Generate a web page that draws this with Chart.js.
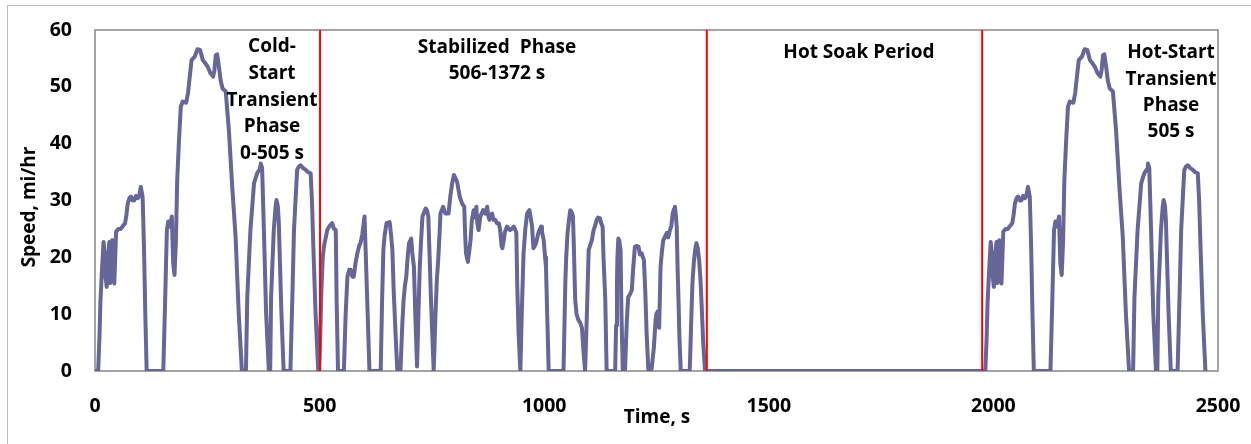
<!DOCTYPE html>
<html>
<head>
<meta charset="utf-8">
<script src="https://cdn.jsdelivr.net/npm/chart.js@4.4.1/dist/chart.umd.min.js"></script>
<style>
  html, body { margin: 0; padding: 0; background: #ffffff; overflow: hidden; }
  #wrap { position: relative; width: 1251px; height: 444px; overflow: hidden; }
  #frame { position: absolute; left: 7px; top: 5px; width: 1270px; height: 460px; border: 1px solid #bdbdbd; box-sizing: border-box; }
  canvas { position: absolute; left: 0; top: 0; }
</style>
</head>
<body>
<div id="wrap">
  <div id="frame"></div>
  <canvas id="c" width="1251" height="444"></canvas>
</div>
<script>
// ---- Data ----
// Cold-start transient phase
const coldTime  = [0,7,10,12,15,19,21,23,26,28,30,32,34,36,38,40,43,45,47,52,57,62,67,70,73,77,80,84,87,91,95,98,102,104,106,109,112,115,
                   152,156,160,163,167,171,174,177,180,183,187,191,195,203,207,211,215,222,228,234,240,246,251,257,263,266,269,272,276,280,284,291,298,306,313,320,327,
                   336,339,346,354,361,367,369,372,376,381,387,390,392,398,402,404,407,409,415,420,435,440,443,447,450,454,458,462,469,474,480,483,486,491,497];
const coldSpeed = [0,0,6,12,17,22.7,21,17,14.8,17,21,22.7,15.5,18,23,19,15.4,20,24.5,25,25,25.5,26,27.5,29.5,30.5,30.7,30,30,30.8,30.4,30.7,32.4,31.5,30.7,22,10,0,
                   0,12,24.8,26.3,25.4,27.2,19,16.9,22.5,33.6,40.6,46.5,47.4,47.2,48.9,51.8,54.7,55.3,56.6,56.5,54.7,54.1,53.5,52.4,51.8,53,55.6,55.7,53.5,51,49.7,49.2,42.4,31.8,23.6,10.1,0,
                   0,13,24.8,33,34.8,35.5,36.5,35.7,24.8,10,0,0,13,24.8,29,30.1,29,26.5,10.2,0,0,15,24.8,31,35.4,36,36.2,35.8,35.4,35,34.8,30,22,10.2,0];
// Stabilized phase
const stabTime  = [499,501,504,507,510,517,522,528,532,536,538,541,554,558,562,566,569,573,576,580,584,588,591,595,600,603,606,611,636,639,642,645,649,656,659,662,665,669,673,
                   680,684,687,690,693,696,699,704,706,710,713,717,720,723,726,729,736,739,742,745,748,754,758,761,764,767,769,775,780,787,791,795,799,802,806,809,812,817,822,824,826,830,833,836,839,843,846,849,851,854,856,858,864,869,873,875,878,881,884,887,891,895,899,902,905,907,910,912,917,920,924,928,932,935,938,940,943,947,
                   950,954,958,962,967,970,973,976,979,982,987,993,995,999,1002,1004,1007,1010,1043,1047,1049,1052,1055,1058,1061,1064,1066,1069,1072,1076,1080,1084,1087,1091,
                   1095,1099,1102,1106,1110,1113,1117,1120,1124,1127,1130,1132,1136,1139,1158,1160,1162,1163,1165,1167,1170,1172,1175,1180,1184,1187,1191,1195,1198,1202,1206,1210,1213,1217,1222,1225,1228,1232,
                   1239,1244,1248,1250,1253,1256,1259,1262,1265,1268,1273,1276,1280,1283,1286,1289,1291,1293,1295,1297,1299,1301,1304,1324,1327,1330,1333,1336,1339,1342,1345,1348,1350,1354,1358];
const stabSpeed = [0,5,14,20,22,24.8,25.5,26,25,24.8,12,0,0,10,16.6,17.8,17.8,16.6,16.6,19,20.7,22,22.5,24,27.2,20,12.5,0,0,12,21.3,24,26,26.2,24,21.3,14,6.7,0,
                   0,8,12.5,15,16.6,20,22.5,23.3,21,18.3,10,0.8,10,18.3,23,27.2,28.6,28.3,27.2,20,12.5,0,10,16,19.5,24,27.7,28.9,27.7,27.7,30.7,33,34.5,34,33.3,32,30.7,29.5,28.9,24,20.7,19.2,21,23,26.6,28.3,27,28.9,26,24.8,26,27.2,28.3,27.7,28.9,27.5,26.6,27.5,27.7,26.6,26.6,26,26,24.8,22,21.6,23,24.3,25.4,25.2,24.8,25,25.4,25,24.3,15,6.7,0,
                   10,20.7,25,27.7,28.3,27,25.4,21.6,22,22.5,24.3,25.4,24.5,23,20,18.3,9,0,0,15.4,20,24.3,26.5,28.3,28,27.2,22,12.5,10,9,8.5,7.6,4,0,
                   10,21.3,22,23,24.8,25.5,26.6,27,26.9,26,25.4,20,12.5,0,0,8,15.4,20,23.3,23,21.3,10,0,0.3,9,13,13.5,14.2,18,21.9,22,21.9,20.5,20.7,19.5,14,6.7,0,
                   0.3,4,9,10.1,10.5,7.6,18.3,21,23,23.5,24.3,23.5,24.8,25.5,27.7,28.5,28.9,27.5,25.4,18,12.5,6,0,0,8,15.4,19,21.3,22.5,21.5,19.5,16,12.5,5,0];
// Hot-start transient phase
const hotTime   = [1982,1985,1987,1990,1994,1996,1998,2001,2003,2005,2007,2009,2011,2013,2015,2018,2020,2022,2027,2032,2037,2042,2045,2048,2052,2055,2059,2062,2066,2070,2073,2077,2079,2081,2084,2087,2090,
                   2127,2131,2135,2138,2142,2146,2149,2152,2155,2158,2162,2166,2170,2178,2182,2186,2190,2197,2203,2209,2215,2221,2226,2232,2238,2241,2244,2247,2251,2255,2259,2266,2273,2281,2288,2295,2302,
                   2311,2314,2321,2329,2336,2342,2344,2347,2351,2356,2362,2365,2367,2373,2377,2379,2382,2384,2390,2395,2410,2415,2418,2422,2425,2429,2433,2437,2444,2449,2455,2458,2461,2466,2472];
const hotSpeed  = [0,6,12,17,22.7,21,17,14.8,17,21,22.7,15.5,18,23,19,15.4,20,24.5,25,25,25.5,26,27.5,29.5,30.5,30.7,30,30,30.8,30.4,30.7,32.4,31.5,30.7,22,10,0,
                   0,12,24.8,26.3,25.4,27.2,19,16.9,22.5,33.6,40.6,46.5,47.4,47.2,48.9,51.8,54.7,55.3,56.6,56.5,54.7,54.1,53.5,52.4,51.8,53,55.6,55.7,53.5,51,49.7,49.2,42.4,31.8,23.6,10.1,0,
                   0,13,24.8,33,34.8,35.5,36.5,35.7,24.8,10,0,0,13,24.8,29,30.1,29,26.5,10.2,0,0,15,24.8,31,35.4,36,36.2,35.8,35.4,35,34.8,30,22,10.2,0];
// Phase boundaries (red lines), seconds
const phaseBoundaries = [501, 1362, 1975];
// Tick labels
const xTicks = [0, 500, 1000, 1500, 2000, 2500];
const yTicks = [0, 10, 20, 30, 40, 50, 60];
// Texts
const xTitle = 'Time, s';
const yTitle = 'Speed, mi/hr';
const coldLabel = ['Cold-', 'Start', 'Transient', 'Phase', '0-505 s'];
const stabLabel = ['Stabilized  Phase', '506-1372 s'];
const soakLabel = ['Hot Soak Period'];
const hotLabel  = ['Hot-Start', 'Transient', 'Phase', '505 s'];

// ---- Build the library's data table ----
function toPoints(ts, vs) { return ts.map((t, i) => ({ x: t, y: vs[i] })); }
const speedPoints = [].concat(toPoints(coldTime, coldSpeed), toPoints(stabTime, stabSpeed), toPoints(hotTime, hotSpeed));

const FONT = '"Open Sans", "Noto Sans", sans-serif';

const boundaryDatasets = phaseBoundaries.map(b => ({
  data: [{ x: b, y: yTicks[0] }, { x: b, y: yTicks[yTicks.length - 1] }],
  borderColor: '#ff0000', borderWidth: 2, pointRadius: 0, order: 0, clip: 2
}));

const framePlugin = {
  id: 'frame',
  beforeDatasetsDraw(chart) {
    const { ctx, chartArea: a } = chart;
    ctx.save();
    ctx.strokeStyle = '#868686';
    ctx.lineWidth = 1.5;
    ctx.strokeRect(a.left, a.top, a.right - a.left, a.bottom - a.top);
    ctx.restore();
  }
};

const textPlugin = {
  id: 'texts',
  afterDraw(chart) {
    const ctx = chart.ctx;
    ctx.save();
    ctx.fillStyle = '#000000';
    ctx.font = 'bold 19px ' + FONT;
    ctx.textAlign = 'center';
    ctx.textBaseline = 'middle';
    const block = (lines, cx, cy, step) => lines.forEach((s, i) => ctx.fillText(s, cx, cy + i * step));
    block(coldLabel, 272, 47, 26.6);
    block(stabLabel, 497, 48, 26);
    block(soakLabel, 859, 53, 26);
    block(hotLabel, 1171, 53, 26.3);
    ctx.fillText(xTitle, 657, 418);
    ctx.translate(30, 207);
    ctx.rotate(-Math.PI / 2);
    ctx.fillText(yTitle, 0, 0);
    ctx.restore();
  }
};

function noPad(s) { s.paddingLeft = 0; s.paddingRight = 0; s.paddingTop = 0; s.paddingBottom = 0; }

new Chart(document.getElementById('c'), {
  type: 'line',
  data: {
    datasets: boundaryDatasets.concat([{
      data: speedPoints,
      borderColor: '#666699',
      borderWidth: 4,
      borderJoinStyle: 'round',
      borderCapStyle: 'round',
      pointRadius: 0,
      tension: 0,
      order: 1
    }])
  },
  options: {
    responsive: false,
    animation: false,
    devicePixelRatio: 1,
    layout: { padding: { left: 0, top: 30, right: 33, bottom: 0 } },
    plugins: { legend: { display: false }, tooltip: { enabled: false } },
    scales: {
      x: {
        type: 'linear', min: xTicks[0], max: xTicks[xTicks.length - 1],
        grid: { display: false, drawTicks: false },
        border: { display: false },
        afterBuildTicks: s => { s.ticks = xTicks.map(v => ({ value: v })); },
        afterFit: s => { s.height = 73; noPad(s); },
        ticks: { color: '#000', padding: 24, maxRotation: 0, callback: v => String(v), font: { family: FONT, size: 19.5, weight: 'bold' } }
      },
      y: {
        type: 'linear', min: yTicks[0], max: yTicks[yTicks.length - 1],
        grid: { display: false, drawTicks: false },
        border: { display: false },
        afterBuildTicks: s => { s.ticks = yTicks.map(v => ({ value: v })); },
        afterFit: s => { s.width = 95; noPad(s); },
        ticks: { color: '#000', padding: 23, callback: v => String(v), font: { family: FONT, size: 19.5, weight: 'bold' } }
      }
    }
  },
  plugins: [framePlugin, textPlugin]
});
</script>
</body>
</html>
